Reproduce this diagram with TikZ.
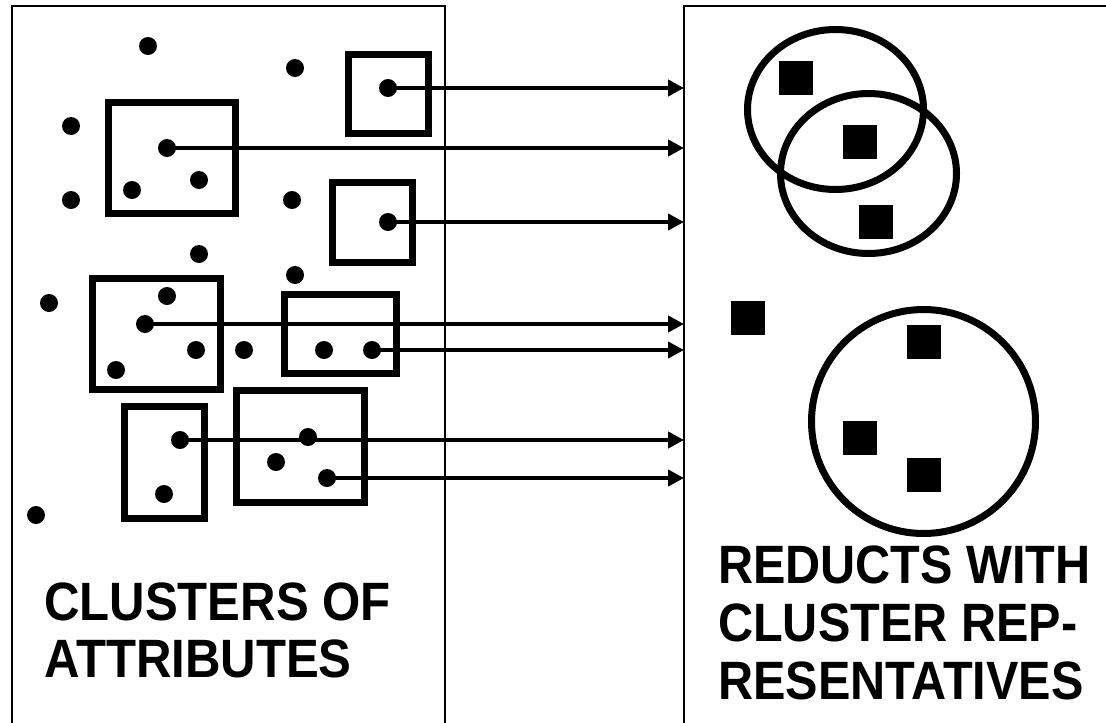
\documentclass[tikz,border=0pt]{standalone}
\usepackage{fontspec}
\setsansfont{Liberation Sans}
\usetikzlibrary{arrows.meta}

\begin{document}
\begin{tikzpicture}[x=1pt, y=-1pt,
		attr/.style={circle, fill=black, inner sep=0pt, minimum size=18pt},
		rep/.style={rectangle, fill=black, inner sep=0pt, minimum size=34pt},
		clus/.style={line width=7pt},
		link/.style={line width=4pt, -{Triangle[length=16pt, width=16pt]}},
		caption/.style={font=\sffamily\bfseries\fontsize{54}{57}\selectfont, inner sep=0pt, anchor=base west}]
			%%%%% START %%%%%
			\useasboundingbox (0, 0) rectangle (1106, 723);
			
			\draw[line width=2pt] (12, 730) -- (12, 6) -- (445, 6) -- (445, 730);
			\draw[line width=2pt] (684, 730) -- (684, 6) -- (1110, 6);
			\coordinate (rp) at (684, 6);
			
			\draw[clus] (348, 54) rectangle (428, 133);
			\draw[clus] (108, 102) rectangle (235, 213);
			\draw[clus] (332, 182) rectangle (412, 262);
			\draw[clus] (92, 278) rectangle (220, 389);
			\draw[clus] (284, 294) rectangle (396, 373);
			\draw[clus] (124, 406) rectangle (204, 518);
			\draw[clus] (236, 390) rectangle (364, 502);
			
			\foreach \n/\x/\y in {a1/148/46, a2/295/68, a3/71/126, a4/199/180, a5/132/190,
				a6/71/200, a7/292/200, a8/199/254, a9/295/275, a10/49/303, a11/167/296,
				a12/196/350, a13/116/370, a14/244/350, a15/324/350, a16/308/437,
				a17/276/462, a18/164/494, a19/36/515}
				\node[attr] (\n) at (\x, \y) {};
			
			\foreach \n/\x/\y in {s1/388/88, s2/167/148, s3/388/222, s4/145/324,
				s5/372/350, s6/180/440, s7/327/478}
				\node[attr] (\n) at (\x, \y) {};
			
			\foreach \n in {1,...,7}
				\draw[link] (s\n.center) -- (s\n -| rp);
			
			\draw[clus] (835.5, 109.5) ellipse [x radius=88, y radius=80];
			\draw[clus] (868.5, 173.5) ellipse [x radius=88, y radius=80];
			\draw[clus] (923.5, 421.5) circle [radius=112];
			
			\foreach \n/\x/\y in {r1/796/78, r2/860/142, r3/876/222, r4/748/318,
				r5/924/342, r6/860/438, r7/924/475}
				\node[rep] (\n) at (\x, \y) {};
			
			\node[caption] (cl1) at (44, 620) {\scalebox{0.91}[1]{CLUSTERS OF}};
			\node[caption] (cl2) at (44, 677) {\scalebox{0.91}[1]{ATTRIBUTES}};
			\node[caption] (rd1) at (718, 583) {\scalebox{0.9}[1]{REDUCTS WITH}};
			\node[caption] (rd2) at (718, 641) {\scalebox{0.9}[1]{CLUSTER REP-}};
			\node[caption] (rd3) at (718, 699) {\scalebox{0.9}[1]{RESENTATIVES}};
			%%%%% END %%%%%
		\end{tikzpicture}
\end{document}
